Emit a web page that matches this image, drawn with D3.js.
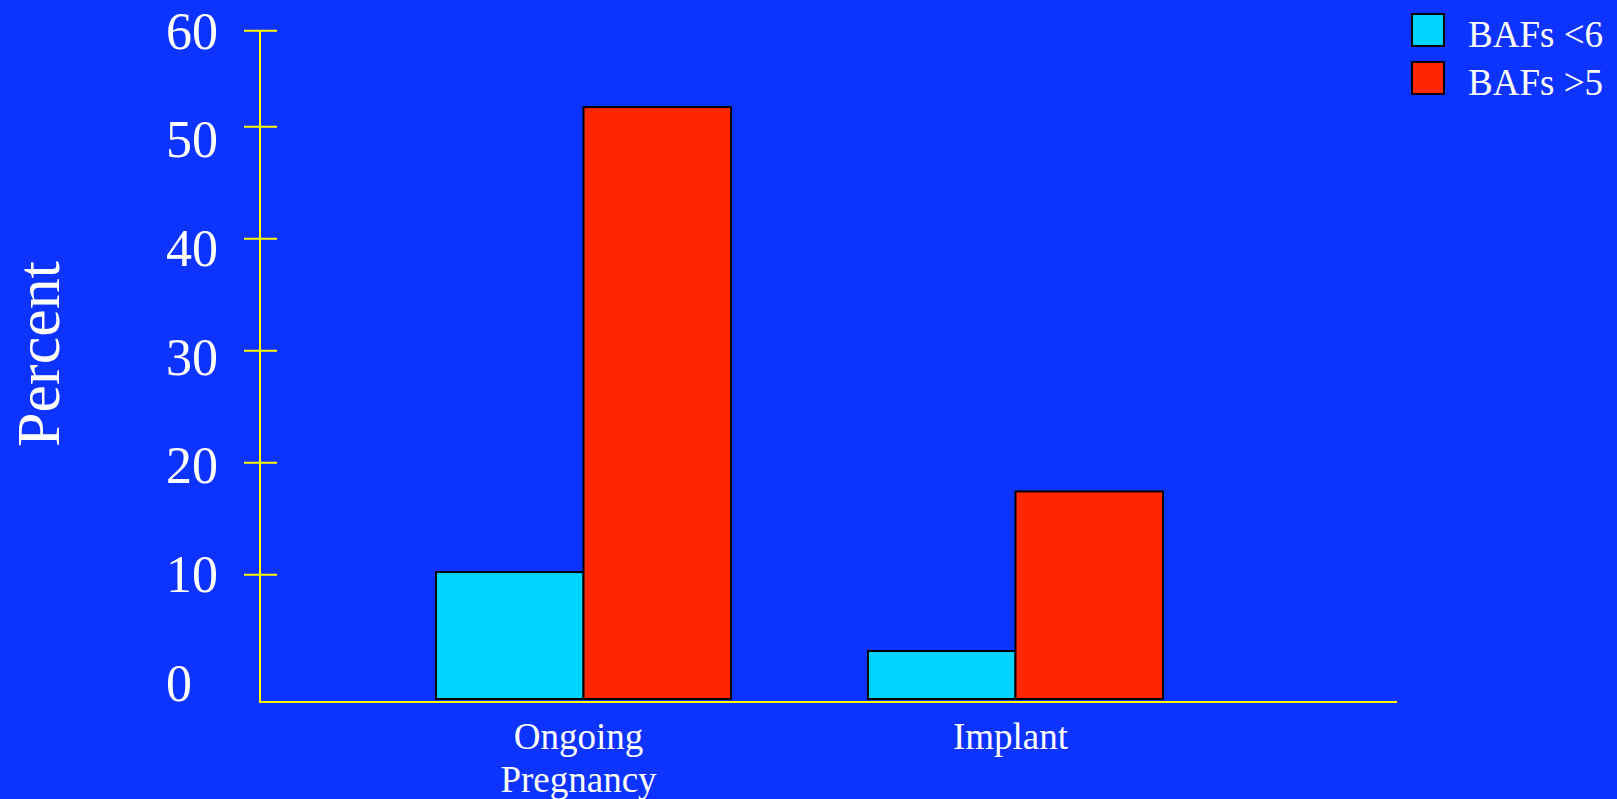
<!DOCTYPE html>
<html>
<head>
<meta charset="utf-8">
<script src="https://cdn.jsdelivr.net/npm/d3@7/dist/d3.min.js"></script>
<style>
  html, body { margin: 0; padding: 0; background: #0d33ff; }
  svg { display: block; }
  text { font-family: "Liberation Serif", "Times New Roman", serif; fill: #ffffff; }
</style>
</head>
<body>
<svg id="chart" width="1617" height="799"></svg>
<script>
// Chart data
const categories = ["Ongoing Pregnancy", "Implant"];
const categoryLines = [["Ongoing", "Pregnancy"], ["Implant"]];
const seriesNames = ["BAFs <6", "BAFs >5"];
const seriesColors = ["#00d4ff", "#ff2600"];
const bafsUnder6 = [10.2, 3.15];
const bafsOver5 = [52.0, 17.4];
const yTickValues = [0, 10, 20, 30, 40, 50, 60];
const yTitle = "Percent";

const rows = categories.map((c, i) => ({ category: c, values: [bafsUnder6[i], bafsOver5[i]] }));

const svg = d3.select("#chart");
svg.append("rect").attr("width", 1617).attr("height", 799).attr("fill", "#0d33ff");

// Layout
const axisX = 260, axisRight = 1397, axisY = 702, barBase = 699;

// Value scale for tick marks and bars (the top interval is drawn compressed)
const y = d3.scaleLinear().domain([0, 50, 60]).range([686.3, 126.3, 30.3]);
// Label scale: labels are evenly spaced down to the baseline
const yLabel = d3.scaleLinear().domain([0, 60]).range([683, 31]);

const x0 = d3.scaleBand().domain(categories).range([436, 1163]).paddingInner(0.317);
const x1 = d3.scaleBand().domain(seriesNames).range([0, x0.bandwidth()]);

// Bars
const groups = svg.append("g").selectAll("g").data(rows).join("g")
  .attr("transform", d => `translate(${x0(d.category)},0)`);
groups.selectAll("rect")
  .data(d => d.values.map((v, i) => ({ v, s: seriesNames[i], c: seriesColors[i] })))
  .join("rect")
  .attr("x", d => x1(d.s))
  .attr("width", x1.bandwidth())
  .attr("y", d => y(d.v))
  .attr("height", d => barBase - y(d.v))
  .attr("fill", d => d.c)
  .attr("stroke", "#000")
  .attr("stroke-width", 2);

// Y ticks (crossing the axis line)
const yAxis = svg.append("g").attr("transform", `translate(${axisX},0)`)
  .call(d3.axisLeft(y).tickValues(yTickValues.filter(v => v > 0)).tickSize(16).tickFormat(""));
yAxis.select(".domain").remove();
yAxis.selectAll(".tick line").attr("x1", 17).attr("stroke", "#ffff00").attr("stroke-width", 2);

// Y tick labels
const yLabels = svg.append("g").attr("transform", `translate(166,0)`)
  .call(d3.axisRight(yLabel).tickValues(yTickValues).tickSize(0).tickPadding(0).tickFormat(d3.format("d")));
yLabels.select(".domain").remove();
yLabels.selectAll(".tick text")
  .attr("x", 0).attr("dy", "0.33em")
  .attr("text-anchor", "start")
  .style("font-family", '"Liberation Serif", serif')
  .style("font-size", "52px")
  .attr("fill", "#ffffff");

// Axis lines
svg.append("line").attr("x1", axisX).attr("x2", axisX).attr("y1", y(60)).attr("y2", axisY + 1)
  .attr("stroke", "#ffff00").attr("stroke-width", 2);
svg.append("line").attr("x1", axisX - 1).attr("x2", axisRight).attr("y1", axisY).attr("y2", axisY)
  .attr("stroke", "#ffff00").attr("stroke-width", 2);

// Category labels
const catLabels = svg.append("g").selectAll("text").data(categories).join("text")
  .attr("x", (d, i) => x0(d) + x1(seriesNames[1]) - 5)
  .attr("y", 749)
  .attr("text-anchor", "middle")
  .style("font-size", "37px");
catLabels.selectAll("tspan").data((d, i) => categoryLines[i]).join("tspan")
  .attr("x", function () { return d3.select(this.parentNode).attr("x"); })
  .attr("dy", (d, i) => i === 0 ? 0 : 43)
  .text(d => d);

// Y title
svg.append("text")
  .attr("transform", "translate(59,354) rotate(-90)")
  .attr("text-anchor", "middle")
  .style("font-size", "62px")
  .text(yTitle);

// Legend
const legend = svg.append("g").selectAll("g").data(seriesNames).join("g")
  .attr("transform", (d, i) => `translate(1412,${14 + i * 48})`);
legend.append("rect")
  .attr("width", 32).attr("height", 32)
  .attr("fill", (d, i) => seriesColors[i])
  .attr("stroke", "#000").attr("stroke-width", 2);
legend.append("text")
  .attr("x", 56).attr("y", 32.5)
  .style("font-size", "37px")
  .text(d => d);
</script>
</body>
</html>
